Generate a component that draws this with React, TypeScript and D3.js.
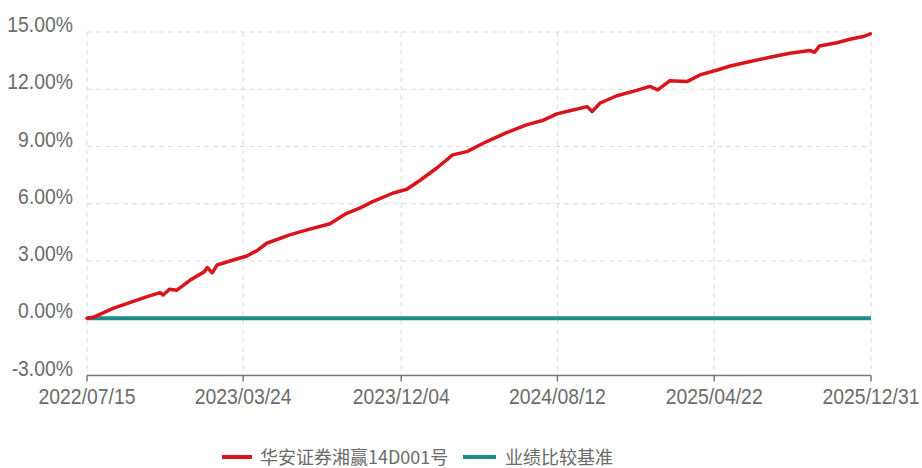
import React from "react";
import * as d3 from "d3";

const xTickLabels = ["2022/07/15", "2023/03/24", "2023/12/04", "2024/08/12", "2025/04/22", "2025/12/31"];
const yTicks = [-3, 0, 3, 6, 9, 12, 15];

const fundName = "华安证券湘赢14D001号";
const benchName = "业绩比较基准";

const fundDates = [
  "2022-07-15", "2022-07-25", "2022-08-26", "2022-09-22", "2022-10-20", "2022-11-10", "2022-11-15",
  "2022-11-25", "2022-12-07", "2022-12-28", "2023-01-20", "2023-01-25", "2023-02-02", "2023-02-10",
  "2023-03-08", "2023-03-30", "2023-04-17", "2023-05-01", "2023-06-07", "2023-07-05", "2023-08-11",
  "2023-09-07", "2023-09-28", "2023-10-19", "2023-11-20", "2023-12-13", "2024-01-03", "2024-01-30",
  "2024-02-25", "2024-03-19", "2024-04-20", "2024-05-22", "2024-06-23", "2024-07-19", "2024-08-11",
  "2024-09-01", "2024-09-29", "2024-10-07", "2024-10-20", "2024-11-16", "2024-12-18", "2025-01-08",
  "2025-01-21", "2025-02-09", "2025-03-09", "2025-03-30", "2025-04-27", "2025-05-18", "2025-06-19",
  "2025-07-21", "2025-08-22", "2025-09-23", "2025-10-01", "2025-10-09", "2025-11-06", "2025-11-27",
  "2025-12-18", "2025-12-30",
];
const fundValues = [
  0, 0.05, 0.52, 0.82, 1.13, 1.34, 1.22,
  1.52, 1.47, 1.99, 2.43, 2.66, 2.38, 2.79,
  3.05, 3.26, 3.58, 3.93, 4.37, 4.63, 4.95,
  5.5, 5.77, 6.11, 6.55, 6.76, 7.22, 7.86,
  8.56, 8.73, 9.26, 9.73, 10.13, 10.36, 10.71,
  10.87, 11.09, 10.83, 11.28, 11.66, 11.94, 12.15,
  11.97, 12.44, 12.4, 12.75, 13.01, 13.22, 13.45,
  13.68, 13.89, 14.03, 13.94, 14.27, 14.44, 14.62,
  14.76, 14.9,
];
const benchDates = ["2022-07-15", "2025-12-31"];
const benchValues = [0, 0];

const W = 922;
const H = 468;
const M = { left: 87, right: 51, top: 32, bottom: 92.5 };
const FONT = "'Liberation Sans', Arial, sans-serif";
const SX = 0.88;

export default function App() {
  const parse = d3.timeParse("%Y-%m-%d");
  const parseTick = d3.timeParse("%Y/%m/%d");
  const tickDates = xTickLabels.map((s) => parseTick(s) as Date);

  const x = d3
    .scaleTime()
    .domain([tickDates[0], tickDates[tickDates.length - 1]])
    .range([M.left, W - M.right]);
  const y = d3.scaleLinear().domain([-3, 15]).range([H - M.bottom, M.top]);

  const line = d3
    .line<[Date, number]>()
    .x((d) => x(d[0]))
    .y((d) => y(d[1]))
    .curve(d3.curveLinear);

  const fund: [Date, number][] = fundDates.map((d, i) => [parse(d) as Date, fundValues[i]]);
  const bench: [Date, number][] = benchDates.map((d, i) => [parse(d) as Date, benchValues[i]]);

  const x0 = M.left;
  const x1 = W - M.right;
  const yBottom = H - M.bottom;

  return (
    <svg
      width={W}
      height={H}
      style={{ position: "absolute", left: 0, top: 0, background: "#fff" }}
      fontFamily={FONT}
    >
      {/* horizontal grid */}
      {yTicks
        .filter((t) => t !== -3)
        .map((t) => (
          <line
            key={"hg" + t}
            x1={x0}
            x2={x1}
            y1={y(t)}
            y2={y(t)}
            stroke="#dcdcdc"
            strokeWidth={1}
            strokeDasharray="5,4"
          />
        ))}
      {/* vertical grid */}
      {tickDates.map((d, i) => (
        <line
          key={"vg" + i}
          x1={x(d)}
          x2={x(d)}
          y1={M.top}
          y2={yBottom}
          stroke="#dcdcdc"
          strokeWidth={1}
          strokeDasharray="5,4"
        />
      ))}
      {/* y labels */}
      {yTicks.map((t) => (
        <text
          key={"yl" + t}
          transform={`translate(73,${y(t)}) scale(${SX},1)`}
          textAnchor="end"
          fontSize={22}
          fill="#6b6b6b"
        >
          {t.toFixed(2) + "%"}
        </text>
      ))}
      {/* x axis */}
      <line x1={x0} x2={x1} y1={yBottom} y2={yBottom} stroke="#777" strokeWidth={1.5} />
      {tickDates.map((d, i) => (
        <g key={"xt" + i}>
          <line x1={x(d)} x2={x(d)} y1={yBottom} y2={yBottom + 6} stroke="#777" strokeWidth={1.5} />
          <text
            transform={`translate(${x(d)},${yBottom + 28}) scale(${SX},1)`}
            textAnchor="middle"
            fontSize={22}
            fill="#6b6b6b"
          >
            {xTickLabels[i]}
          </text>
        </g>
      ))}
      {/* series */}
      <path d={line(bench) || ""} fill="none" stroke="#1c8c86" strokeWidth={4} />
      <path
        d={line(fund) || ""}
        fill="none"
        stroke="#d8141c"
        strokeWidth={3.5}
        strokeLinejoin="round"
        strokeLinecap="round"
      />
      {/* legend */}
      <g>
        <line x1={222} x2={252} y1={457} y2={457} stroke="#d8141c" strokeWidth={4} />
        <text x={260} y={456} dominantBaseline="central" fontSize={18} fill="#6b6b6b" fontFamily={"'Noto Sans CJK SC', " + FONT}>
          {fundName}
        </text>
        <line x1={463} x2={496} y1={457} y2={457} stroke="#1c8c86" strokeWidth={4} />
        <text x={505} y={456} dominantBaseline="central" fontSize={18} fill="#6b6b6b" fontFamily={"'Noto Sans CJK SC', " + FONT}>
          {benchName}
        </text>
      </g>
    </svg>
  );
}
